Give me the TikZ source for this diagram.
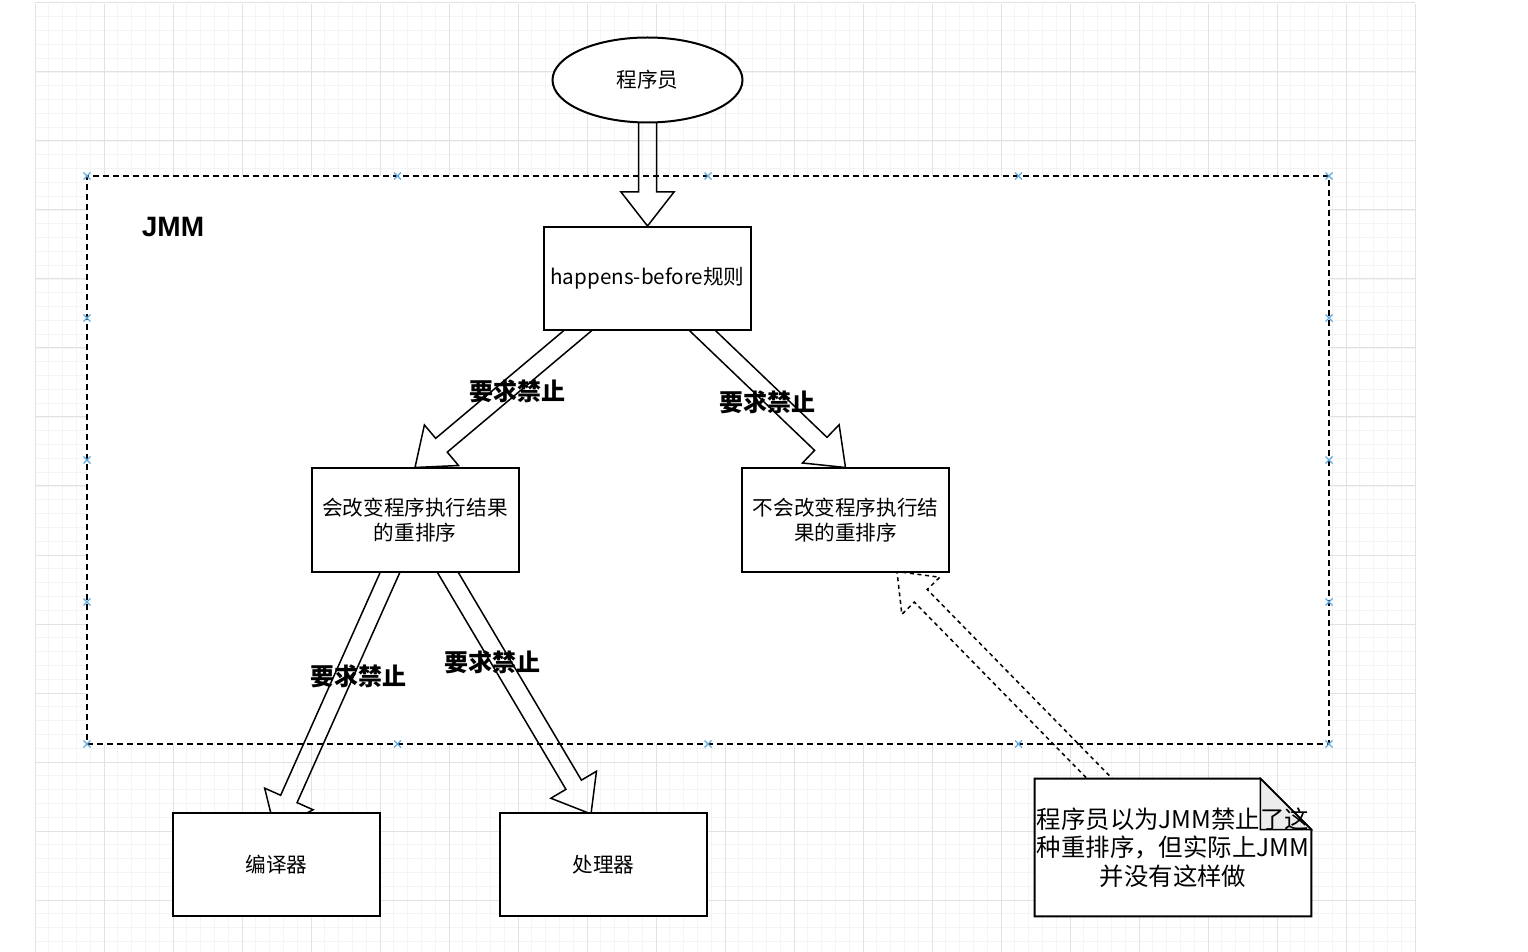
\documentclass[tikz,border=0pt]{standalone}
\usepackage{fontspec}
\setmainfont{Noto Sans CJK SC}
\newfontfamily\jmmfont{Liberation Sans}
\usetikzlibrary{calc,shapes.geometric}
\pgfdeclarelayer{grid}
\pgfdeclarelayer{arrows}
\pgfsetlayers{grid,arrows,main}
\definecolor{gridminor}{RGB}{244,244,244}
\definecolor{gridmajor}{RGB}{226,226,226}
\definecolor{handleblue}{RGB}{95,170,225}
\definecolor{foldgray}{RGB}{236,236,236}

% hollow block arrow from #2 to #3
\newcommand{\fatarrow}[3][]{%
  \draw[fatline,#1] let \p1=#2, \p2=#3, \n1={atan2(\y2-\y1,\x2-\x1)}, \n2={veclen(\x2-\x1,\y2-\y1)} in
    ($(\p1)+(\n1+90:4.5pt)$)
    -- ($(\p1)+(\n1:{\n2-17pt})+(\n1+90:4.5pt)$)
    -- ($(\p1)+(\n1:{\n2-17pt})+(\n1+90:13.25pt)$)
    -- (\p2)
    -- ($(\p1)+(\n1:{\n2-17pt})+(\n1-90:13.25pt)$)
    -- ($(\p1)+(\n1:{\n2-17pt})+(\n1-90:4.5pt)$)
    -- ($(\p1)+(\n1-90:4.5pt)$) -- cycle;}

\begin{document}
\begin{tikzpicture}[x=0.5pt,y=-0.5pt,
    fatline/.style={draw=black, line width=0.75pt, line join=miter},
    box/.style={draw, line width=1pt, fill=white, minimum width=103.5pt, minimum height=51.5pt,
      inner sep=0pt, align=center, font=\fontsize{10.3}{12.5}\selectfont},
    lbl/.style={font=\bfseries\fontsize{12}{14}\selectfont},
    handle/.style={handleblue, line width=0.6pt}]
  \useasboundingbox (0,0) rectangle (1528,952);

  % grid and JMM frame
  \begin{pgfonlayer}{grid}
    \foreach \i in {0,...,100}
      \draw[gridminor, line width=0.4pt] (35+13.8*\i,4) -- (35+13.8*\i,952);
    \foreach \i in {1,...,68}
      \draw[gridminor, line width=0.4pt] (35,3+13.8*\i) -- (1415,3+13.8*\i);
    \foreach \i in {0,...,20}
      \draw[gridmajor, line width=0.5pt] (35+69*\i,4) -- (35+69*\i,952);
    \foreach \i in {0,...,13}
      \draw[gridmajor, line width=0.5pt] (35,3+69*\i) -- (1415,3+69*\i);
    \node[draw, line width=0.75pt, dash pattern=on 3pt off 2pt, fill=white,
      minimum width=621pt, minimum height=284pt, inner sep=0pt] (jmm) at (708,460) {};
  \end{pgfonlayer}

  \node[font=\jmmfont\bfseries\fontsize{14}{16}\selectfont] (jmmlabel) at (173,227) {JMM};

  \node[ellipse, draw, line width=1pt, fill=white, minimum width=95pt, minimum height=42.5pt,
    font=\fontsize{10.3}{12.5}\selectfont] (prog) at (647.5,80) {程序员};
  \node[box] (hb) at (647.5,278.5) {happens-before规则};
  \node[box] (lb) at (415,520) {会改变程序执行结果\\的重排序};
  \node[box] (rb) at (845.5,520) {不会改变程序执行结\\果的重排序};
  \node[box] (cp) at (276.5,864.5) {编译器};
  \node[box] (pr) at (603.5,864.5) {处理器};
  \node[align=center, minimum width=138pt, minimum height=68.5pt, inner sep=0pt,
    font=\fontsize{12.2}{14.3}\selectfont] (note) at (1173,847.5)
    {程序员以为JMM禁止了这\\种重排序，但实际上JMM\\并没有这样做};

  \coordinate (a0s) at ($(prog.south)+(0,-12)$);
  \coordinate (a1s) at ($(hb.south)+(-59.5,-9)$);
  \coordinate (a2s) at ($(hb.south)+(45.5,-9.5)$);
  \coordinate (a3s) at ($(lb.south)+(-19,-13.5)$);
  \coordinate (a3e) at ($(cp.north)+(-1.5,18)$);
  \coordinate (a4s) at ($(lb.south)+(25.5,-12.5)$);
  \coordinate (a4e) at ($(pr.north)+(-12.5,2)$);
  \coordinate (a5s) at ($(note.north)+(-64.5,9)$);
  \coordinate (a5e) at ($(rb.south)+(51.5,-1)$);

  \begin{pgfonlayer}{arrows}
    \fatarrow{(a0s)}{(hb.north)}
    \fatarrow{(a1s)}{(lb.north)}
    \fatarrow{(a2s)}{(rb.north)}
    \fatarrow{(a3s)}{(a3e)}
    \fatarrow{(a4s)}{(a4e)}
    \fatarrow[dash pattern=on 2pt off 1.8pt]{(a5s)}{(a5e)}
    % note with folded corner
    \draw[line width=1pt, fill=white] (note.south west) -- (note.north west)
      -- ($(note.north east)+(-51,0)$) -- ($(note.north east)+(0,51)$)
      -- (note.south east) -- cycle;
    \draw[line width=0.75pt, fill=foldgray] ($(note.north east)+(-51,0)$)
      -- ($(note.north east)+(-51,51)$) -- ($(note.north east)+(0,51)$) -- cycle;
  \end{pgfonlayer}

  \node[lbl] (l1) at (517,391) {要求禁止};
  \node[lbl] (l2) at (767,402) {要求禁止};
  \node[lbl] (l3) at (358,676) {要求禁止};
  \node[lbl] (l4) at (492,662) {要求禁止};

  % selection handles
  \foreach \hx in {87,397.5,708,1018.5,1329}
    \foreach \hy in {176,744}
      \draw[handle] (\hx-3.5,\hy-3.5) -- (\hx+3.5,\hy+3.5) (\hx-3.5,\hy+3.5) -- (\hx+3.5,\hy-3.5);
  \foreach \hy in {318,460,602}
    \foreach \hx in {87,1329}
      \draw[handle] (\hx-3.5,\hy-3.5) -- (\hx+3.5,\hy+3.5) (\hx-3.5,\hy+3.5) -- (\hx+3.5,\hy-3.5);
\end{tikzpicture}
\end{document}
